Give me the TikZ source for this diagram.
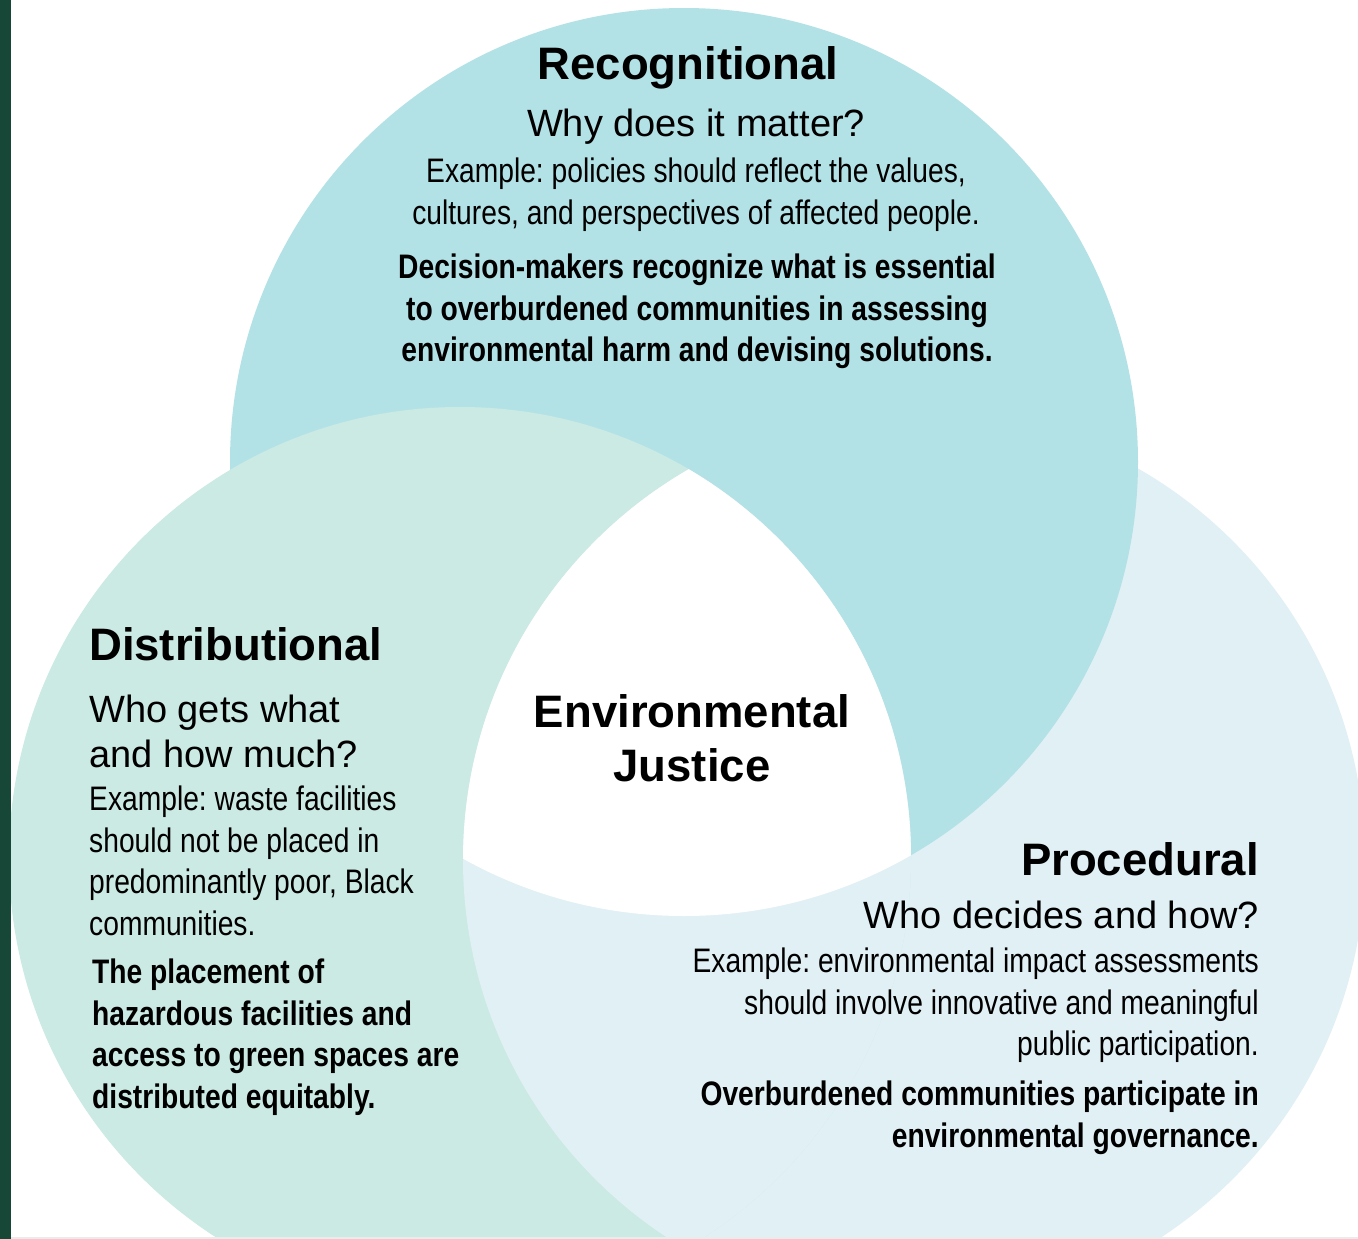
\documentclass[tikz,border=0pt]{standalone}
\usepackage{fontspec}
\setmainfont{Liberation Sans}
\newfontfamily\narrowfont[FakeStretch=0.83]{Liberation Sans}
\frenchspacing
\definecolor{recblue}{HTML}{B3E2E6}
\definecolor{disgreen}{HTML}{CCEAE4}
\definecolor{problue}{HTML}{E1F0F5}
\definecolor{sidebar}{HTML}{164737}
\tikzset{
  heading/.style={font=\fontsize{45.5}{54.6}\selectfont\bfseries, inner sep=0pt},
  question/.style={font=\fontsize{38}{45}\selectfont, inner sep=0pt},
  example/.style={font=\narrowfont\fontsize{34}{41.5}\selectfont, inner sep=0pt},
  claim/.style={font=\narrowfont\bfseries\fontsize{34}{41.5}\selectfont, inner sep=0pt},
}
\begin{document}
\begin{tikzpicture}[x=1pt, y=-1pt]
  \clip (0,0) rectangle (1358,1239);
  \fill[white] (0,0) rectangle (1358,1239);
  \coordinate (rec) at (684,462);
  \coordinate (dis) at (460,858);
  \coordinate (pro) at (914,860);
  % the three circles, each one over the next
  \fill[problue] (pro) circle[radius=451pt];
  \fill[recblue] (rec) circle[radius=454pt];
  \fill[disgreen] (dis) circle[radius=451pt];
  \begin{scope}
    \clip (dis) circle[radius=451pt];
    \fill[problue] (pro) circle[radius=451pt];
    \clip (pro) circle[radius=451pt];
    \fill[white] (rec) circle[radius=454pt];
  \end{scope}
  \fill[sidebar] (0,0) rectangle (11,1239);
  \draw[black!8, line width=2pt] (11,1238) -- (1358,1238);

  % Recognitional
  \node[heading, anchor=base] (rectitle) at (688,80) {Recognitional};
  \node[question, anchor=base] (recq) at (696,136) {Why does it matter?};
  \node[example, align=center, anchor=north] (recex) at (696,158)
    {Example: policies should reflect the values,\\cultures, and perspectives of affected people.};
  \node[claim, align=center, anchor=north] (recclaim) at (697,254)
    {Decision-makers recognize what is essential\\to overburdened communities in assessing\\environmental harm and devising solutions.};

  % Distributional
  \node[heading, anchor=base west] (distitle) at (89,660) {Distributional};
  \node[question, align=left, anchor=north west] (disq) at (89,695)
    {Who gets what\\and how much?};
  \node[example, align=left, anchor=north west] (disex) at (89,786)
    {Example: waste facilities\\should not be placed in\\predominantly poor, Black\\communities.};
  \node[claim, align=left, anchor=north west] (disclaim) at (92,959)
    {The placement of\\hazardous facilities and\\access to green spaces are\\distributed equitably.};

  % Procedural
  \node[heading, anchor=base east] (protitle) at (1259,875) {Procedural};
  \node[question, anchor=base east] (proq) at (1259,928) {Who decides and how?};
  \node[example, align=right, anchor=north east] (proex) at (1259,948)
    {Example: environmental impact assessments\\should involve innovative and meaningful\\public participation.};
  \node[claim, align=right, anchor=north east] (proclaim) at (1259,1081)
    {Overburdened communities participate in\\environmental governance.};

  % centre
  \node[heading, align=center, anchor=north] (ej) at (692,694) {Environmental\\Justice};
\end{tikzpicture}
\end{document}
